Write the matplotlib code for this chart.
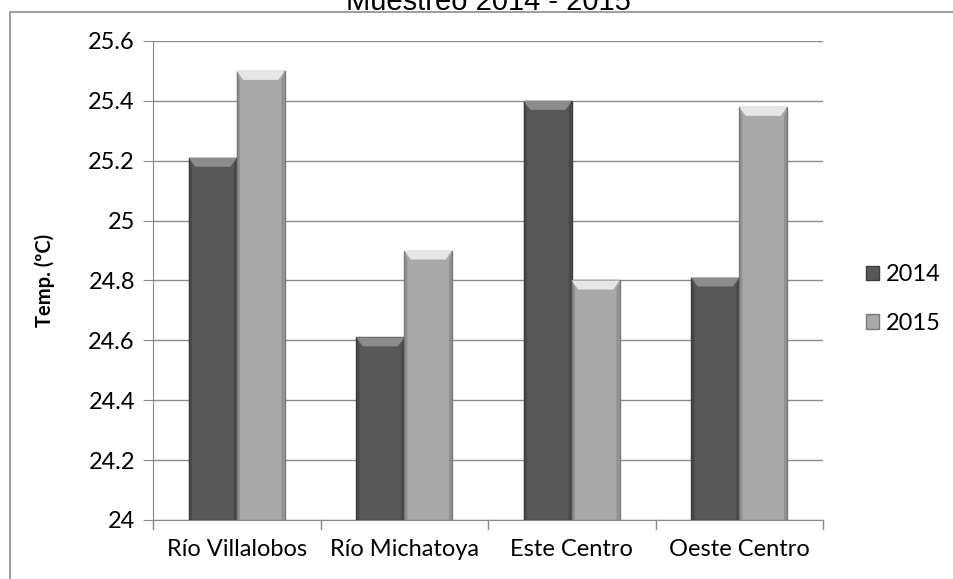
import numpy as np
import matplotlib.pyplot as plt
from matplotlib.patches import Polygon, Rectangle

# Sampling sites and mean temperatures per year
sites = ["Río Villalobos", "Río Michatoya", "Este Centro", "Oeste Centro"]
years = ["2014", "2015"]
temp_2014 = [25.21, 24.61, 25.40, 24.81]
temp_2015 = [25.50, 24.90, 24.80, 25.38]

y_ticks = [24, 24.2, 24.4, 24.6, 24.8, 25, 25.2, 25.4, 25.6]
y_tick_labels = ["24", "24.2", "24.4", "24.6", "24.8", "25", "25.2", "25.4", "25.6"]

face_colors = ["#585858", "#a9a9a9"]
top_colors = ["#8c8c8c", "#e6e6e6"]
edge_colors = ["#3c3c3c", "#7a7a7a"]

font = ["Lato", "DejaVu Sans"]

fig = plt.figure(figsize=(9.54, 5.79), dpi=100)
ax = fig.add_axes([0.1604, 0.1019, 0.7023, 0.8273])

x = np.arange(len(sites))
width = 0.286
ymin = 24

bevel_h = 0.03
bevel_w = 0.038


def draw_bars(xs, values, i, label):
    ax.bar(xs, np.array(values) - ymin, width, bottom=ymin, color=face_colors[i],
           edgecolor=edge_colors[i], linewidth=1.0, label=label, zorder=3)
    for xc, v in zip(xs, values):
        left, right = xc - width / 2, xc + width / 2
        # bevelled top face
        ax.add_patch(Polygon([(left, v), (right, v), (right - bevel_w, v - bevel_h),
                              (left + bevel_w, v - bevel_h)], closed=True,
                             facecolor=top_colors[i], edgecolor="none", zorder=4))
        # darker side bevels
        ax.add_patch(Polygon([(left, v), (left + bevel_w * 0.5, v - bevel_h),
                              (left + bevel_w * 0.5, ymin), (left, ymin)], closed=True,
                             facecolor=edge_colors[i], edgecolor="none", alpha=0.5, zorder=4))
        ax.add_patch(Polygon([(right, v), (right - bevel_w * 0.5, v - bevel_h),
                              (right - bevel_w * 0.5, ymin), (right, ymin)], closed=True,
                             facecolor=edge_colors[i], edgecolor="none", alpha=0.5, zorder=4))


draw_bars(x - width / 2, temp_2014, 0, years[0])
draw_bars(x + width / 2, temp_2015, 1, years[1])

ax.set_xlim(-0.5, len(sites) - 0.5)
ax.set_ylim(24, 25.6)
ax.set_yticks(y_ticks)
ax.set_yticklabels(y_tick_labels, fontsize=17, family=font)
ax.set_xticks(x)
ax.set_xticklabels(sites, fontsize=17, family=font)
ax.tick_params(axis="x", length=0, pad=14)
ax.tick_params(axis="y", length=7, color="#888888", pad=6)

# category boundary ticks on the x axis
for b in np.arange(-0.5, len(sites), 1.0):
    ax.plot([b, b], [24, 24 - 0.03], color="#888888", lw=1, clip_on=False, zorder=2)

ax.grid(axis="y", color="#8c8c8c", lw=1.0, zorder=0)
for side in ["top", "right"]:
    ax.spines[side].set_visible(False)
ax.spines["left"].set_color("#888888")
ax.spines["bottom"].set_color("#888888")

ax.set_ylabel("Temp. (ºC)", fontsize=14.5, fontweight="bold", family=font, labelpad=24)

leg = ax.legend(loc="center left", bbox_to_anchor=(1.064, 0.461), frameon=False,
                prop={"family": font, "size": 17}, handlelength=0.55, handleheight=0.55,
                labelspacing=1.16, handletextpad=0.3, borderaxespad=0, borderpad=0)

# outer chart frame
fig.patches.append(Rectangle((10 / 954, -0.05), 1.0, (579 - 12) / 579 + 0.05,
                             transform=fig.transFigure, fill=False,
                             edgecolor="#8c8c8c", lw=1.2))

fig.text(488 / 954, 1.0 - 9.5 / 579, "Muestreo 2014 - 2015", ha="center", va="baseline",
         fontsize=21, family=["Liberation Sans", "DejaVu Sans"])

fig.savefig("out.png", dpi=100)
